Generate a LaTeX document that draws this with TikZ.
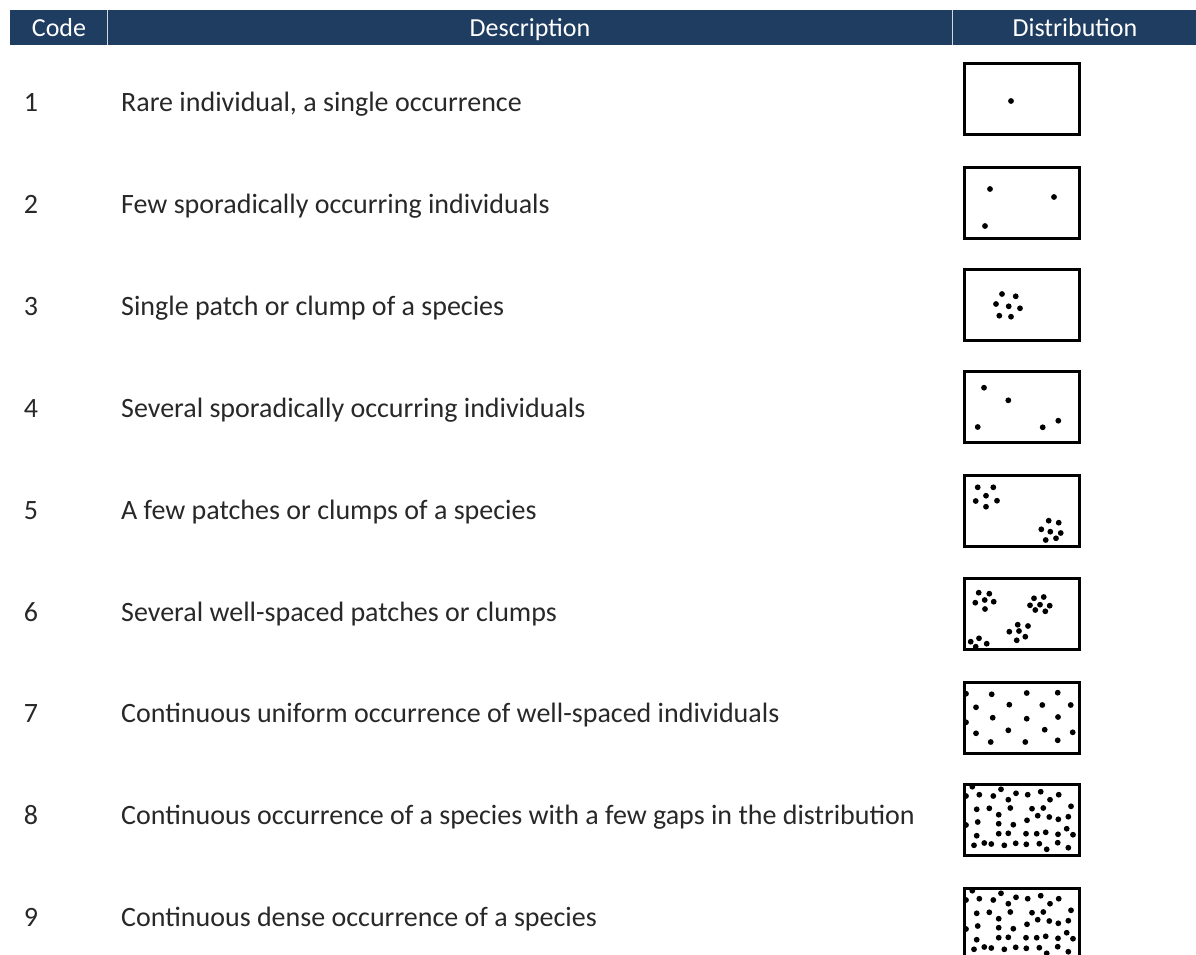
\documentclass[tikz,border=0pt]{standalone}
\usepackage{fontspec}
\setmainfont{Carlito}
\definecolor{hdr}{RGB}{31,61,96}
\definecolor{txt}{RGB}{40,40,40}
\newcommand\densedots{%
\foreach \p in {(9.3,3.7),(3,13),(16.3,11.7),(30.3,13),(38,6.3),(45.3,16.7),(53,10.3),(64.7,11.7),(77.7,8.7),(87,16.7),(95.7,11.7),(13.7,26.3),(26.3,25.3),(47.3,25),(35.7,31.7),(69,25.7),(80.3,25),(74.7,32.7),(86.3,34),(95.3,36.3),(105.3,33.7),(108,23.3),(14.7,39),(35.7,40.7),(50.3,41.7),(64,37.3),(3,42),(13.7,52.7),(35.7,50.7),(45.3,50.3),(63,50.7),(73.7,50.7),(82.7,49.3),(95,51.3),(103.7,45.7),(110,51.7),(11,62.3),(21.3,60),(28.3,61),(41.3,62.3),(52.7,60.3),(63.3,61.3),(76.3,60.7),(94.7,59.7),(83.7,66.3),(105.3,64.7)}{\fill[black] \p circle (2.9pt);}}
\begin{document}
\begin{tikzpicture}[x=1pt,y=-1pt,
 hdrtext/.style={text=white,font=\fontsize{26}{30}\selectfont,inner sep=0pt,anchor=base},
 codetext/.style={text=txt,font=\fontsize{28}{32}\selectfont,inner sep=0pt,anchor=base},
 desctext/.style={text=txt,font=\fontsize{28}{32}\selectfont,inner sep=0pt,anchor=base west},
 distbox/.style={draw=black,line width=2.8pt,minimum width=115pt,minimum height=71pt,anchor=north west,inner sep=0pt},
 dotmark/.style={fill=black}]
\useasboundingbox (0,0) rectangle (1196,955);
% header
\fill[hdr] (10,10) rectangle (1196,45);
\draw[white!80!hdr, line width=1pt] (107,10) -- (107,45) (952,10) -- (952,45);
\node[hdrtext] (hcode) at (59,37) {Code};
\node[hdrtext] (hdesc) at (530,37) {Description};
\node[hdrtext] (hdist) at (1075,37) {Distribution};
% codes
\node[codetext] (c1) at (31,112) {1};
\node[codetext] (c2) at (31,213.8) {2};
\node[codetext] (c3) at (31,315.6) {3};
\node[codetext] (c4) at (31,417.4) {4};
\node[codetext] (c5) at (31,519.2) {5};
\node[codetext] (c6) at (31,621) {6};
\node[codetext] (c7) at (31,722.8) {7};
\node[codetext] (c8) at (31,824.6) {8};
\node[codetext] (c9) at (31,926.4) {9};
% descriptions
\node[desctext] (d1) at (121,112) {Rare individual, a single occurrence};
\node[desctext] (d2) at (121,213.8) {Few sporadically occurring individuals};
\node[desctext] (d3) at (121,315.6) {Single patch or clump of a species};
\node[desctext] (d4) at (121,417.4) {Several sporadically occurring individuals};
\node[desctext] (d5) at (121,519.2) {A few patches or clumps of a species};
\node[desctext] (d6) at (121,621) {Several well-spaced patches or clumps};
\node[desctext] (d7) at (121,722.8) {Continuous uniform occurrence of well-spaced individuals};
\node[desctext] (d8) at (121,824.6) {Continuous occurrence of a species with a few gaps in the distribution};
\node[desctext] (d9) at (121,926.4) {Continuous dense occurrence of a species};
% boxes
\node[distbox] (b1) at (963,62) {};
\node[distbox] (b2) at (963,166) {};
\node[distbox] (b3) at (963,268) {};
\node[distbox] (b4) at (963,370) {};
\node[distbox] (b5) at (963,474) {};
\node[distbox] (b6) at (963,577) {};
\node[distbox] (b7) at (963,681) {};
\node[distbox] (b8) at (963,783) {};
\node[distbox] (b9) at (963,887) {};
% dots
\begin{scope}[shift={(963,62)}]
\foreach \p in {(48,39)}{\fill[dotmark] \p circle (2.9pt);}
\end{scope}
\begin{scope}[shift={(963,166)}]
\foreach \p in {(27,23),(91,31),(22,60)}{\fill[dotmark] \p circle (2.9pt);}
\end{scope}
\begin{scope}[shift={(963,268)}]
\foreach \p in {(39,26),(52.7,28.3),(33,36),(45.7,38.3),(57,40.3),(36.3,47.7),(48,48.7)}{\fill[dotmark] \p circle (2.9pt);}
\end{scope}
\begin{scope}[shift={(963,370)}]
\foreach \p in {(21,17.7),(45.3,30.3),(14.7,57),(79.7,57.3),(95.3,50.7)}{\fill[dotmark] \p circle (2.9pt);}
\end{scope}
\begin{scope}[shift={(963,474)}]
\foreach \p in {(14.7,13.3),(30.3,13.3),(23,21.7),(12.7,27),(34,26.7),(23,32.7),(85.7,46.7),(95.7,48.7),(78.3,55.3),(87.3,57.7),(97.7,59),(93,64.3),(82.7,66)}{\fill[dotmark] \p circle (2.9pt);}
\end{scope}
\begin{scope}[shift={(963,577)}]
\foreach \p in {(15.7,15.7),(26.3,16.7),(12.3,25.7),(21.7,23),(30.7,24.7),(22,32),(71,21.3),(80.7,20),(67,28.3),(77,27.7),(86.7,28.7),(72.3,33),(82.3,34.3),(54.7,47.7),(65,49),(46.3,54.7),(56,54),(62.3,59.7),(53.7,63.3),(7.7,64.7),(16,61.3),(23.7,66.7),(12.7,69.7)}{\fill[dotmark] \p circle (2.9pt);}
\end{scope}
\begin{scope}[shift={(963,681)}]
\foreach \p in {(3,12.7),(28.7,13.3),(63.7,12),(94.7,11.7),(13,26.3),(46.3,23.7),(79.3,24),(107.7,24),(29.7,36.7),(63.7,37.7),(95,36),(3,41.3),(13,52.3),(45.3,49.3),(81.7,48.7),(109.7,51.3),(27.7,61),(62.3,61),(94.7,59.3)}{\fill[dotmark] \p circle (2.9pt);}
\end{scope}
\begin{scope}[shift={(963,783)}]
\densedots
\end{scope}
\begin{scope}[shift={(963,887)}]
\densedots
\end{scope}
\end{tikzpicture}
\end{document}
